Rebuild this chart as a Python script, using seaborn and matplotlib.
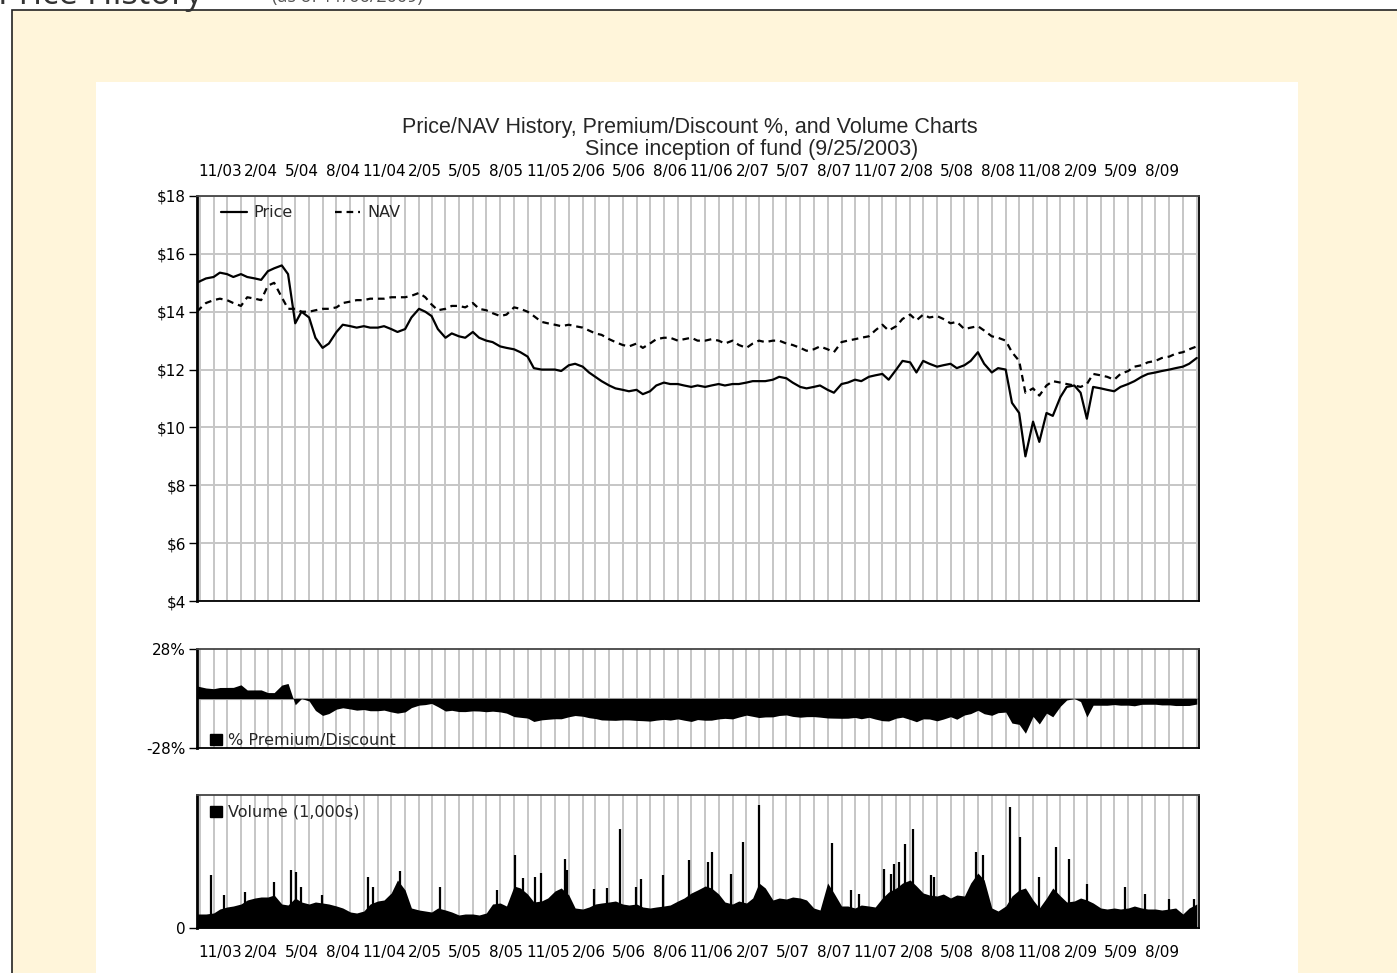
import numpy as np
import pandas as pd
import matplotlib
matplotlib.use("Agg")
import matplotlib.pyplot as plt
import matplotlib.dates as mdates
from matplotlib.patches import Rectangle, Patch
from matplotlib.ticker import FuncFormatter, NullFormatter
import seaborn as sns

sns.set_theme(style="white")
plt.rcParams["font.family"] = ["DejaVu Sans"]

# closes: inception day, then the 1st and 15th of each month
dates = ["2003-09-25"] + [d.strftime("%Y-%m-%d") for d in
                          pd.date_range("2003-10-01", "2009-11-01", freq="SMS")]

price = [15.0,
         15.05, 15.15, 15.2, 15.35, 15.3, 15.2,            # Oct-Dec 03
         15.3, 15.2, 15.15, 15.1, 15.4, 15.5, 15.6, 15.3,  # Jan-Apr 04
         13.6, 14.0, 13.8, 13.1, 12.75, 12.9, 13.3, 13.55,
         13.5, 13.45, 13.5, 13.45, 13.45, 13.5, 13.4, 13.3,
         13.4, 13.8, 14.1, 14.0, 13.85, 13.4, 13.1, 13.25,  # 2005
         13.15, 13.1, 13.3, 13.1, 13.0, 12.95, 12.8, 12.75,
         12.7, 12.6, 12.45, 12.05, 12.0, 12.0, 12.0, 11.95,
         12.15, 12.2, 12.1, 11.9, 11.75, 11.6, 11.45, 11.35,  # 2006
         11.3, 11.25, 11.3, 11.15, 11.25, 11.45, 11.55, 11.5,
         11.5, 11.45, 11.4, 11.45, 11.4, 11.45, 11.5, 11.45,
         11.5, 11.5, 11.55, 11.6, 11.6, 11.6, 11.65, 11.75,  # 2007
         11.7, 11.55, 11.4, 11.35, 11.4, 11.45, 11.3, 11.2,
         11.5, 11.55, 11.65, 11.6, 11.75, 11.8, 11.85, 11.65,
         12.0, 12.3, 12.25, 11.9, 12.3, 12.2, 12.1, 12.15,  # 2008
         12.2, 12.05, 12.15, 12.3, 12.6, 12.2, 11.9, 12.05,
         12.0, 10.85, 10.5, 9.0, 10.2, 9.5, 10.5, 10.4,
         11.05, 11.4, 11.45, 11.2, 10.3, 11.4, 11.35, 11.3,  # 2009
         11.25, 11.4, 11.5, 11.6, 11.75, 11.85, 11.9, 11.95,
         12.0, 12.05, 12.1, 12.2, 12.4]

nav = [14.0,
       14.1, 14.3, 14.4, 14.45, 14.4, 14.3,
       14.2, 14.5, 14.45, 14.4, 14.9, 15.0, 14.5, 14.1,
       14.1, 14.0, 14.0, 14.05, 14.1, 14.1, 14.15, 14.3,
       14.35, 14.4, 14.4, 14.45, 14.45, 14.45, 14.5, 14.5,
       14.5, 14.55, 14.65, 14.5, 14.25, 14.05, 14.1, 14.2,
       14.2, 14.15, 14.3, 14.1, 14.05, 13.95, 13.85, 13.9,
       14.15, 14.1, 14.0, 13.85, 13.65, 13.6, 13.55, 13.5,
       13.55, 13.5, 13.45, 13.35, 13.25, 13.2, 13.05, 12.95,
       12.85, 12.8, 12.9, 12.75, 12.9, 13.05, 13.1, 13.1,
       13.0, 13.05, 13.1, 13.0, 13.0, 13.05, 13.0, 12.9,
       13.0, 12.85, 12.75, 12.9, 13.0, 12.95, 13.0, 13.0,
       12.9, 12.85, 12.75, 12.65, 12.7, 12.8, 12.7, 12.6,
       12.95, 13.0, 13.05, 13.1, 13.15, 13.35, 13.55, 13.35,
       13.5, 13.75, 13.9, 13.7, 13.9, 13.8, 13.85, 13.75,
       13.6, 13.65, 13.4, 13.45, 13.5, 13.35, 13.15, 13.1,
       13.0, 12.6, 12.3, 11.2, 11.35, 11.1, 11.45, 11.6,
       11.55, 11.5, 11.45, 11.4, 11.5, 11.85, 11.8, 11.75,
       11.65, 11.85, 11.95, 12.1, 12.15, 12.25, 12.3, 12.4,
       12.45, 12.55, 12.6, 12.7, 12.8]

# typical volume level (1,000s) per half month
volume = [14,
          14, 14, 15, 19, 21, 22,
          24, 28, 30, 31, 31, 33, 24, 23,
          30, 26, 24, 26, 25, 24, 22, 20,
          16, 15, 17, 24, 27, 28, 35, 48,
          38, 20, 18, 17, 16, 20, 18, 16,
          13, 14, 14, 13, 15, 24, 25, 22,
          42, 40, 34, 26, 27, 30, 37, 40,
          33, 20, 19, 21, 24, 25, 26, 27,
          24, 23, 24, 21, 20, 21, 22, 23,
          27, 30, 35, 38, 42, 40, 34, 26,
          24, 27, 25, 30, 45, 40, 28, 30,
          29, 31, 30, 28, 20, 18, 45, 35,
          22, 22, 20, 23, 22, 21, 30, 36,
          40, 45, 48, 42, 35, 33, 32, 34,
          30, 33, 32, 45, 55, 48, 20, 17,
          22, 32, 38, 40, 28, 20, 30, 40,
          32, 26, 27, 30, 28, 25, 20, 19,
          20, 19, 20, 22, 20, 19, 19, 18,
          19, 20, 14, 20, 24]

# single heavy-volume days
spike_dates = ["2003-10-26", "2003-11-24", "2004-01-10", "2004-03-14", "2004-04-21",
               "2004-05-02", "2004-05-14", "2004-06-29", "2004-10-11", "2004-10-21",
               "2004-12-20", "2005-03-19", "2005-07-24", "2005-09-02", "2005-09-20",
               "2005-10-17", "2005-11-01", "2005-12-23", "2005-12-27", "2006-02-27",
               "2006-03-28", "2006-04-26", "2006-05-30", "2006-06-10", "2006-07-29",
               "2006-09-25", "2006-11-08", "2006-11-17", "2006-12-29", "2007-01-24",
               "2007-03-02", "2007-08-10", "2007-09-22", "2007-10-11", "2007-12-05",
               "2007-12-20", "2007-12-26", "2008-01-08", "2008-01-21", "2008-02-08",
               "2008-03-18", "2008-03-26", "2008-06-27", "2008-07-13", "2008-09-10",
               "2008-10-02", "2008-11-14", "2008-12-22", "2009-01-20", "2009-03-02",
               "2009-05-25", "2009-07-09", "2009-08-31", "2009-10-26"]
spike_volume = [53, 33, 36, 46, 58,
                56, 41, 33, 51, 41,
                57, 41, 38, 73, 50,
                51, 55, 69, 58, 39,
                40, 99, 41, 49, 53,
                68, 66, 76, 54, 86,
                123, 85, 38, 34, 59,
                54, 64, 66, 84, 99,
                53, 51, 76, 73, 121,
                91, 51, 81, 69, 44,
                41, 34, 29, 29]

quarter_months = [2, 5, 8, 11]

W, H = 1397, 973
CREAM = "#FFF5DA"
GRID = "#C6C6C6"

d = pd.to_datetime(dates)
prem = (np.array(price) / np.array(nav) - 1) * 100
df = (pd.DataFrame({"date": d, "Price": price, "NAV": nav})
      .melt("date", var_name="series", value_name="value"))

fig = plt.figure(figsize=(W / 100, H / 100), dpi=100, facecolor="white")
fig.add_artist(Rectangle((12 / W, -0.05), 1.1, 1 - 10 / H + 0.05,
                         transform=fig.transFigure, facecolor=CREAM,
                         edgecolor="#222222", lw=1.2, zorder=0))
fig.add_artist(Rectangle((96 / W, -0.05), (1298 - 96) / W, 1 - 82 / H + 0.05,
                         transform=fig.transFigure, facecolor="white",
                         edgecolor="none", zorder=0))


def box(top, bottom):
    return [197 / W, 1 - bottom / H, (1199 - 197) / W, (bottom - top) / H]


ax = fig.add_axes(box(196, 601))
ax2 = fig.add_axes(box(649, 748))
ax3 = fig.add_axes(box(795, 928))

xmin, xmax = pd.Timestamp("2003-09-25"), pd.Timestamp("2009-11-06")
qlabel = FuncFormatter(lambda v, pos: f"{mdates.num2date(v).month}/{mdates.num2date(v):%y}")

for a in (ax, ax2, ax3):
    a.set_facecolor("white")
    a.set_xlim(xmin, xmax)
    a.xaxis.set_major_locator(mdates.MonthLocator())
    a.xaxis.set_major_formatter(NullFormatter())
    a.xaxis.set_minor_locator(mdates.MonthLocator(bymonth=quarter_months, bymonthday=15))
    a.xaxis.set_minor_formatter(NullFormatter())
    a.grid(axis="x", which="major", color=GRID, lw=1.4)
    a.set_axisbelow(True)
    a.tick_params(axis="x", which="both", length=0, labelsize=11, colors="black")
    a.tick_params(axis="y", left=True, length=6, width=1, color="black",
                  direction="out", pad=2, labelsize=11, labelcolor="black")
    for s in a.spines.values():
        s.set_color("black"); s.set_linewidth(1.3)
    a.spines["left"].set_linewidth(2)
    a.spines["top"].set_color("#444444")

# price / NAV
sns.lineplot(data=df, x="date", y="value", hue="series", style="series",
             palette={"Price": "black", "NAV": "black"},
             dashes={"Price": "", "NAV": (3, 2.2)}, lw=1.6, ax=ax)
ax.set(xlabel="", ylabel="", ylim=(4, 18))
ax.set_xlim(xmin, xmax)
ax.set_yticks(range(4, 19, 2))
ax.yaxis.set_major_formatter(FuncFormatter(lambda v, pos: f"${v:.0f}"))
ax.grid(axis="y", color=GRID, lw=1.4)
ax.xaxis.set_minor_formatter(qlabel)
ax.tick_params(axis="x", which="minor", top=True, labeltop=True,
               bottom=False, labelbottom=False, pad=12)
sns.move_legend(ax, "upper left", bbox_to_anchor=(0.024, 0.977), ncol=2,
                title=None, frameon=False, fontsize=11.5, handlelength=1.6,
                handletextpad=0.45, columnspacing=2.6, borderaxespad=0,
                borderpad=0)

# premium / discount
ax2.axhline(0, color="#9A9A9A", lw=1.5, zorder=1)
ax2.fill_between(d, prem, 0, color="black", lw=0, zorder=2)
ax2.set_ylim(-28, 28)
ax2.set_yticks([-28, 28])
ax2.set_yticklabels(["-28%", "28%"])
ax2.legend([Patch(color="black")], ["% Premium/Discount"], loc="lower left",
           bbox_to_anchor=(0.013, 0.0), frameon=False, fontsize=11.5,
           handlelength=0.75, handleheight=0.75, handletextpad=0.35,
           borderaxespad=0, borderpad=0)

# volume
ax3.fill_between(d, volume, 0, color="black", lw=0, zorder=2)
ax3.vlines(pd.to_datetime(spike_dates), 0, spike_volume, color="black", lw=1.6, zorder=2)
ax3.set_ylim(0, 133)
ax3.set_yticks([0])
ax3.set_yticklabels(["0"])
ax3.xaxis.set_minor_formatter(qlabel)
ax3.tick_params(axis="x", which="minor", bottom=True, labelbottom=True, pad=12)
ax3.legend([Patch(color="black")], ["Volume (1,000s)"], loc="upper left",
           bbox_to_anchor=(0.013, 0.925), frameon=False, fontsize=11.5,
           handlelength=0.75, handleheight=0.75, handletextpad=0.35,
           borderaxespad=0, borderpad=0)

fig.text(690 / W, 1 - 128 / H, "Price/NAV History, Premium/Discount %, and Volume Charts",
         ha="center", va="center", fontsize=15.5, family="Liberation Sans")
fig.text(752 / W, 1 - 150 / H, "Since inception of fund (9/25/2003)",
         ha="center", va="center", fontsize=15.5, family="Liberation Sans")
fig.text(-2 / W, 1 - 4 / H, "Price History", ha="left", va="baseline",
         fontsize=25, family="Open Sans", color="#333333")
fig.text(272 / W, 1 - 2 / H, "(as of 11/06/2009)", ha="left", va="baseline",
         fontsize=13, family="Open Sans", color="#555555")

fig.savefig("out.png", dpi=100)
